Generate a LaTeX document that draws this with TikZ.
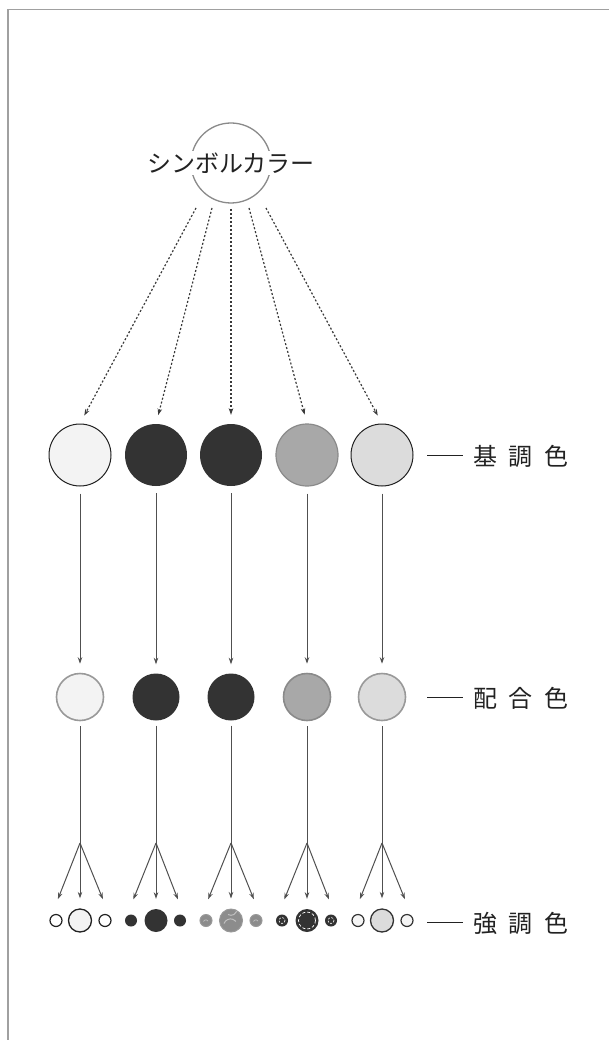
\documentclass[tikz,border=0pt]{standalone}
\usepackage{fontspec}
\newfontfamily\jp{Noto Sans CJK JP}
\usetikzlibrary{arrows.meta}
\definecolor{framec}{HTML}{A0A0A0}
\definecolor{textc}{HTML}{222222}
\definecolor{symc}{HTML}{8A8A8A}
\definecolor{linec}{HTML}{505050}
\definecolor{dashc}{HTML}{3A3A3A}
\definecolor{darkc}{HTML}{333333}
\definecolor{paper}{HTML}{F3F3F3}
\definecolor{midgray}{HTML}{A8A8A8}
\definecolor{lightgray}{HTML}{DCDCDC}
\definecolor{dotgray}{HTML}{8C8C8C}
\definecolor{ringgray}{HTML}{999999}
\tikzset{
  bigc/.style={circle, inner sep=0pt, minimum size=62pt},
  midc/.style={circle, inner sep=0pt, minimum size=47pt},
  bigdot/.style={circle, inner sep=0pt, minimum size=23pt},
  smalldot/.style={circle, inner sep=0pt, minimum size=12pt},
  conn/.style={draw=linec, line width=1pt, -{Stealth[length=6.5pt,width=4.5pt]}},
  plainline/.style={draw=linec, line width=1pt},
  dconn/.style={draw=dashc, line width=1.2pt, dash pattern=on 2pt off 2pt, -{Stealth[length=6.5pt,width=4.5pt]}},
  lab/.style={font=\jp\fontsize{24pt}{24pt}\selectfont, text=textc, inner sep=0pt, anchor=west},
  labline/.style={draw=textc, line width=0.9pt},
  c1top/.style={bigc, fill=paper, draw=textc, line width=1pt},
  c1mid/.style={midc, fill=paper, draw=ringgray, line width=1.6pt},
  c1big/.style={bigdot, fill=paper, draw=textc, line width=1.3pt},
  c1small/.style={smalldot, fill=white, draw=textc, line width=1.2pt},
  darktop/.style={bigc, fill=darkc},
  darkmid/.style={midc, fill=darkc},
  darkbig/.style={bigdot, fill=darkc},
  darksmall/.style={smalldot, fill=darkc},
  c3big/.style={bigdot, fill=dotgray, draw=ringgray, line width=1pt},
  c3small/.style={smalldot, fill=dotgray, draw=ringgray, line width=1pt},
  c4top/.style={bigc, fill=midgray, draw=symc, line width=1.2pt},
  c4mid/.style={midc, fill=midgray, draw=symc, line width=1.6pt},
  c5top/.style={bigc, fill=lightgray, draw=textc, line width=1pt},
  c5mid/.style={midc, fill=lightgray, draw=ringgray, line width=1.6pt},
  c5big/.style={bigdot, fill=lightgray, draw=darkc, line width=1.3pt},
  c5small/.style={smalldot, fill=white!96!black, draw=darkc, line width=1.2pt},
  innerdash/.style={draw=white, line width=0.7pt, dash pattern=on 3pt off 2pt},
  swirl/.style={draw=white!75!black, line width=1pt}
}
\begin{document}
\begin{tikzpicture}[x=1pt,y=-1pt]
\useasboundingbox (0,0) rectangle (609,1040);
\fill[white] (0,0) rectangle (609,1040);
\draw[framec, line width=1.5pt] (8,1040) -- (8,9.5) -- (609,9.5);

% symbol colour
\node[circle, draw=symc, line width=1.3pt, minimum size=80pt, inner sep=0pt] (symring) at (231,163) {};
\node[fill=white, inner xsep=0pt, inner ysep=2pt, font=\jp\fontsize{24pt}{24pt}\selectfont, text=textc] (sym) at (231,163) {シンボルカラー};

% top row
\node[c1top]   (t1) at (80,455) {};
\node[darktop] (t2) at (156,455) {};
\node[darktop] (t3) at (231,455) {};
\node[c4top]   (t4) at (307,455) {};
\node[c5top]   (t5) at (382,455) {};

% middle row
\node[c1mid]   (m1) at (80,697) {};
\node[darkmid] (m2) at (156,697) {};
\node[darkmid] (m3) at (231,697) {};
\node[c4mid]   (m4) at (307,697) {};
\node[c5mid]   (m5) at (382,697) {};

% bottom row
\node[c1small]  (b1l) at (56,920.5) {};
\node[c1big]    (b1c) at (80,920.5) {};
\node[c1small]  (b1r) at (105,920.5) {};
\node[darksmall](b2l) at (131,920.5) {};
\node[darkbig]  (b2c) at (156,920.5) {};
\node[darksmall](b2r) at (180,920.5) {};
\node[c3small]  (b3l) at (206,920.5) {};
\node[c3big]    (b3c) at (231,920.5) {};
\node[c3small]  (b3r) at (256,920.5) {};
\node[darksmall](b4l) at (282,920.5) {};
\node[darkbig]  (b4c) at (307,920.5) {};
\node[darksmall](b4r) at (331,920.5) {};
\node[c5small]  (b5l) at (358,920.5) {};
\node[c5big]    (b5c) at (382,920.5) {};
\node[c5small]  (b5r) at (407,920.5) {};

% texture of the bottom dots
\draw[swirl] (b3c) ++(-7,3) arc[start angle=200, end angle=320, radius=7];
\draw[swirl] (b3c) ++(-3,-6) arc[start angle=120, end angle=20, radius=6];
\draw[swirl, line width=0.7pt] (b3l) ++(-2.5,1) arc[start angle=200, end angle=330, radius=2.5];
\draw[swirl, line width=0.7pt] (b3r) ++(-2.5,1) arc[start angle=200, end angle=330, radius=2.5];
\draw[innerdash] (b4c) circle[radius=8.5];
\draw[innerdash, dash pattern=on 2pt off 1.5pt, line width=0.6pt] (b4l) circle[radius=3];
\draw[innerdash, dash pattern=on 2pt off 1.5pt, line width=0.6pt] (b4r) circle[radius=3];

% dashed arrows from the symbol colour
\coordinate (s1) at (196,208);
\coordinate (s2) at (212,208);
\coordinate (s3) at (231,209);
\coordinate (s4) at (249,208);
\coordinate (s5) at (266,208);
\foreach \i in {1,...,5} {
  \draw[dconn, shorten >=9pt] (s\i) -- (t\i.north);
}

% solid arrows
\foreach \i/\x in {1/80,2/156,3/231,4/307,5/382} {
  \draw[conn, shorten <=7pt, shorten >=9pt] (t\i.south) -- (m\i.north);
  \coordinate (a\i) at (\x,843);
  \draw[plainline, shorten <=5pt] (m\i.south) -- (a\i);
  \draw[conn, shorten >=18pt] (a\i) -- (b\i l.north west);
  \draw[conn, shorten >=10pt] (a\i) -- (b\i c.north);
  \draw[conn, shorten >=18pt] (a\i) -- (b\i r.north east);
}

% labels
\node[lab] (l1) at (473,456) {基\hspace{11.5pt}調\hspace{11.5pt}色};
\node[lab] (l2) at (473,698) {配\hspace{11.5pt}合\hspace{11.5pt}色};
\node[lab] (l3) at (473,923) {強\hspace{11.5pt}調\hspace{11.5pt}色};
\coordinate (k1) at (427,455);
\coordinate (k2) at (427,697);
\coordinate (k3) at (427,922);
\draw[labline, shorten >=10pt] (k1) -- (l1.west |- k1);
\draw[labline, shorten >=10pt] (k2) -- (l2.west |- k2);
\draw[labline, shorten >=10pt] (k3) -- (l3.west |- k3);
\end{tikzpicture}
\end{document}
